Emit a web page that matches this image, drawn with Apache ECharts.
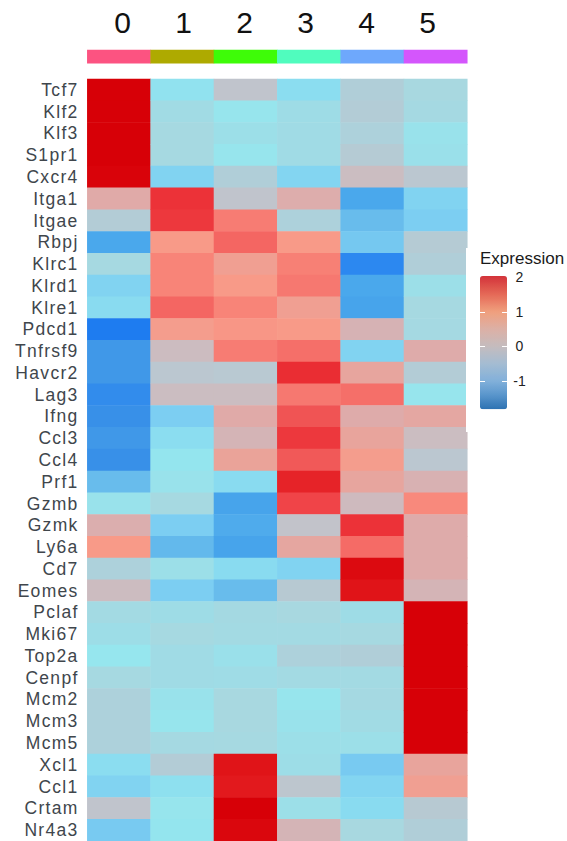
<!DOCTYPE html>
<html>
<head>
<meta charset="utf-8">
<title>Expression heatmap</title>
<script src="https://cdn.jsdelivr.net/npm/echarts@6/dist/echarts.min.js"></script>
<style>
  html, body { margin: 0; padding: 0; background: #ffffff; }
  #chart { width: 567px; height: 841px; }
  /* gene names are set with a little tracking */
  #chart text[text-anchor="end"] { letter-spacing: 1.3px; }
</style>
</head>
<body>
<div id="chart"></div>
<script>
// Cluster ids and their annotation colours
const clusters = ['0', '1', '2', '3', '4', '5'];
const clusterColors = ['#fc5381', '#aeaa00', '#3efc08', '#50fcbe', '#6ea8fc', '#d456fc'];

// Genes, top to bottom
const genes = ['Tcf7', 'Klf2', 'Klf3', 'S1pr1', 'Cxcr4', 'Itga1', 'Itgae', 'Rbpj', 'Klrc1',
  'Klrd1', 'Klre1', 'Pdcd1', 'Tnfrsf9', 'Havcr2', 'Lag3', 'Ifng', 'Ccl3', 'Ccl4', 'Prf1',
  'Gzmb', 'Gzmk', 'Ly6a', 'Cd7', 'Eomes', 'Pclaf', 'Mki67', 'Top2a', 'Cenpf', 'Mcm2',
  'Mcm3', 'Mcm5', 'Xcl1', 'Ccl1', 'Crtam', 'Nr4a3'];

// Scaled expression per cluster (same gene order as above)
const cluster0 = [2.6, 2.6, 2.6, 2.6, 2.55, 0.6, -0.12, -1.4, -0.32, -0.9, -0.82, -2.1, -1.6, -1.6,
  -1.85, -1.75, -1.6, -1.75, -1.1, -0.55, 0.52, 0.95, -0.2, 0.3, -0.38, -0.48, -0.62, -0.32, -0.2,
  -0.2, -0.2, -0.8, -0.9, 0.0, -0.98];
const cluster1 = [-0.7, -0.4, -0.32, -0.32, -0.9, 2.0, 1.95, 0.95, 1.15, 1.15, 1.5, 0.9, 0.3, -0.05,
  0.28, -0.95, -0.8, -0.65, -0.55, -0.32, -0.95, -1.15, -0.5, -0.95, -0.45, -0.32, -0.42, -0.42,
  -0.56, -0.6, -0.35, -0.12, -0.75, -0.6, -0.65];
const cluster2 = [0.0, -0.6, -0.5, -0.6, -0.15, 0.0, 1.25, 1.5, 0.85, 0.95, 1.15, 0.98, 1.25, -0.07,
  0.28, 0.6, 0.42, 0.78, -0.82, -1.45, -1.35, -1.45, -0.82, -1.1, -0.36, -0.38, -0.52, -0.44, -0.3,
  -0.3, -0.32, 2.3, 2.25, 2.6, 2.5];
const cluster3 = [-0.8, -0.45, -0.42, -0.42, -0.88, 0.55, -0.2, 0.95, 1.2, 1.3, 0.85, 0.95, 1.4, 2.05,
  1.3, 1.7, 1.95, 1.65, 2.15, 1.85, 0.05, 0.7, -0.9, -0.08, -0.3, -0.38, -0.2, -0.38, -0.6, -0.55,
  -0.5, -0.48, -0.03, -0.5, 0.42];
const cluster4 = [-0.15, -0.12, -0.2, -0.1, 0.28, -1.4, -1.1, -1.0, -1.95, -1.4, -1.45, 0.45, -0.9,
  0.72, 1.4, 0.58, 0.75, 0.9, 0.72, 0.32, 2.0, 1.45, 2.45, 2.3, -0.45, -0.32, -0.15, -0.38, -0.35,
  -0.4, -0.5, -0.98, -0.88, -0.82, -0.3];
const cluster5 = [-0.3, -0.35, -0.55, -0.52, -0.05, -0.9, -0.95, -0.1, -0.15, -0.5, -0.32, -0.35,
  0.58, -0.12, -0.6, 0.68, 0.28, -0.05, 0.48, 1.1, 0.58, 0.58, 0.58, 0.42, 2.6, 2.6, 2.6, 2.6, 2.6,
  2.6, 2.6, 0.75, 0.85, -0.08, -0.15];

// Colour bar tick labels
const legendTicks = [2, 1, 0, -1];

// ---------- styling ----------
const FONT = "'Liberation Sans', Arial, Helvetica, sans-serif";

// Colour ramp used for the cells: [value, colour]
const cellStops = [
  [-2.1, '#1e7cf0'], [-1.95, '#2c88f0'], [-1.75, '#3890e8'], [-1.6, '#4098e8'],
  [-1.4, '#4aa8ec'], [-1.1, '#68bcec'], [-0.95, '#7ccef2'], [-0.82, '#8adcf0'],
  [-0.62, '#96e6ee'], [-0.45, '#9edce6'], [-0.3, '#a8d8e0'], [-0.15, '#b0ced8'],
  [0.0, '#c0c4cc'], [0.3, '#ccbcc0'], [0.45, '#d6b2b4'], [0.6, '#e0aaa8'],
  [0.75, '#e8a49c'], [0.95, '#f89a88'], [1.15, '#f88478'], [1.3, '#f67870'],
  [1.5, '#f46662'], [1.7, '#f05454'], [1.85, '#f04448'], [2.0, '#ec3238'],
  [2.3, '#e01418'], [2.6, '#d70007']
];
// Colour ramp drawn in the "Expression" key
const keyStops = [
  [-1.82, '#2d72b2'], [-1.4, '#5a96cc'], [-1.0, '#82b0da'], [-0.5, '#a4bcd2'],
  [0.0, '#c4bcbe'], [0.5, '#dcb0a6'], [1.0, '#f0a07e'], [1.5, '#e56a58'], [2.04, '#d3333a']
];
const CELL_MIN = -2.1, CELL_MAX = 2.6;
const KEY_MIN = -1.82, KEY_MAX = 2.04;

function hexToRgb(h) { return [1, 3, 5].map(i => parseInt(h.slice(i, i + 2), 16)); }
// Resample an uneven list of stops into evenly spaced colours for visualMap
function sampleStops(stops, lo, hi, n) {
  const out = [];
  for (let k = 0; k < n; k++) {
    const v = lo + (hi - lo) * k / (n - 1);
    let i = 0;
    while (i < stops.length - 2 && v > stops[i + 1][0]) i++;
    const v0 = stops[i][0], v1 = stops[i + 1][0];
    const t = Math.max(0, Math.min(1, (v - v0) / (v1 - v0)));
    const a = hexToRgb(stops[i][1]), b = hexToRgb(stops[i + 1][1]);
    out.push('rgb(' + a.map((x, j) => Math.round(x + (b[j] - x) * t)).join(',') + ')');
  }
  return out;
}

// Layout of the main grid and of the key
const GRID = { left: 87.3, top: 79, width: 380, height: 764 };
const KEY = { left: 480, top: 276, width: 27, height: 133.3 };
const keyY = v => KEY.top + (KEY_MAX - v) / (KEY_MAX - KEY_MIN) * KEY.height;

// Heatmap cells [clusterIndex, geneIndex, value]
const columns = [cluster0, cluster1, cluster2, cluster3, cluster4, cluster5];
const cells = [];
columns.forEach((col, c) => col.forEach((v, g) => cells.push([c, g, v])));

// Annotation strip above the heatmap
const strip = clusters.map((c, i) => ({ value: [i, 0, i], itemStyle: { color: clusterColors[i] } }));

// Key decorations: tick marks and labels
const keyGraphics = [
  { type: 'rect', shape: { x: 466, y: 248, width: 101, height: 184 }, style: { fill: '#ffffff' }, z: 3, silent: true },
  { type: 'text', x: KEY.left, y: 258, z: 6,
    style: { text: 'Expression', font: '17px ' + FONT, fill: '#1a1a1a', textVerticalAlign: 'middle' } }
];
legendTicks.forEach(t => {
  const y = Math.round(keyY(t)) + 0.5;
  keyGraphics.push({ type: 'text', x: 519.5, y: keyY(t), z: 6,
    style: { text: String(t), font: '14px ' + FONT, fill: '#222222', textAlign: 'center', textVerticalAlign: 'middle' } });
  if (t < KEY_MAX - 0.1) {
    keyGraphics.push({ type: 'line', z: 6, shape: { x1: KEY.left, y1: y, x2: KEY.left + 5, y2: y }, style: { stroke: '#ffffff', lineWidth: 1 } });
    keyGraphics.push({ type: 'line', z: 6, shape: { x1: KEY.left + KEY.width - 5, y1: y, x2: KEY.left + KEY.width, y2: y }, style: { stroke: '#ffffff', lineWidth: 1 } });
  }
});

const chart = echarts.init(document.getElementById('chart'), null, { renderer: 'svg' });
chart.setOption({
  animation: false,
  backgroundColor: '#ffffff',
  grid: [
    { left: GRID.left, top: GRID.top, width: GRID.width, height: GRID.height },
    { left: GRID.left, top: 50, width: GRID.width, height: 13.3 },
    { left: 92.1, top: 50, width: 366, height: 13.3 }
  ],
  xAxis: [
    { type: 'category', gridIndex: 0, data: clusters, show: false },
    { type: 'category', gridIndex: 1, data: clusters, show: false },
    { type: 'category', gridIndex: 2, data: clusters, position: 'top',
      axisLine: { show: false }, axisTick: { show: false }, splitLine: { show: false },
      axisLabel: { interval: 0, margin: 27.5, verticalAlign: 'middle', fontSize: 30, color: '#111111', fontFamily: FONT } }
  ],
  yAxis: [
    { type: 'category', gridIndex: 0, data: genes, inverse: true,
      axisLine: { show: false }, axisTick: { show: false }, splitLine: { show: false },
      axisLabel: { interval: 0, margin: 8.7, fontSize: 17.5, color: '#40464c', fontFamily: FONT } },
    { type: 'category', gridIndex: 1, data: ['cluster'], show: false },
    { type: 'value', gridIndex: 2, show: false }
  ],
  visualMap: [
    { type: 'continuous', show: false, seriesIndex: 0, dimension: 2,
      min: CELL_MIN, max: CELL_MAX,
      inRange: { color: sampleStops(cellStops, CELL_MIN, CELL_MAX, 189) } },
    { type: 'continuous', show: true, seriesIndex: [], calculable: false,
      min: KEY_MIN, max: KEY_MAX, left: KEY.left, top: KEY.top, padding: 0,
      itemWidth: KEY.width, itemHeight: KEY.height, z: 5,
      inRange: { color: sampleStops(keyStops, KEY_MIN, KEY_MAX, 78) } }
  ],
  graphic: keyGraphics,
  series: [
    { name: 'Expression', type: 'heatmap', xAxisIndex: 0, yAxisIndex: 0, data: cells,
      emphasis: { disabled: true }, progressive: 0 },
    { name: 'Cluster', type: 'heatmap', xAxisIndex: 1, yAxisIndex: 1, data: strip,
      emphasis: { disabled: true } }
  ]
});
</script>
</body>
</html>
